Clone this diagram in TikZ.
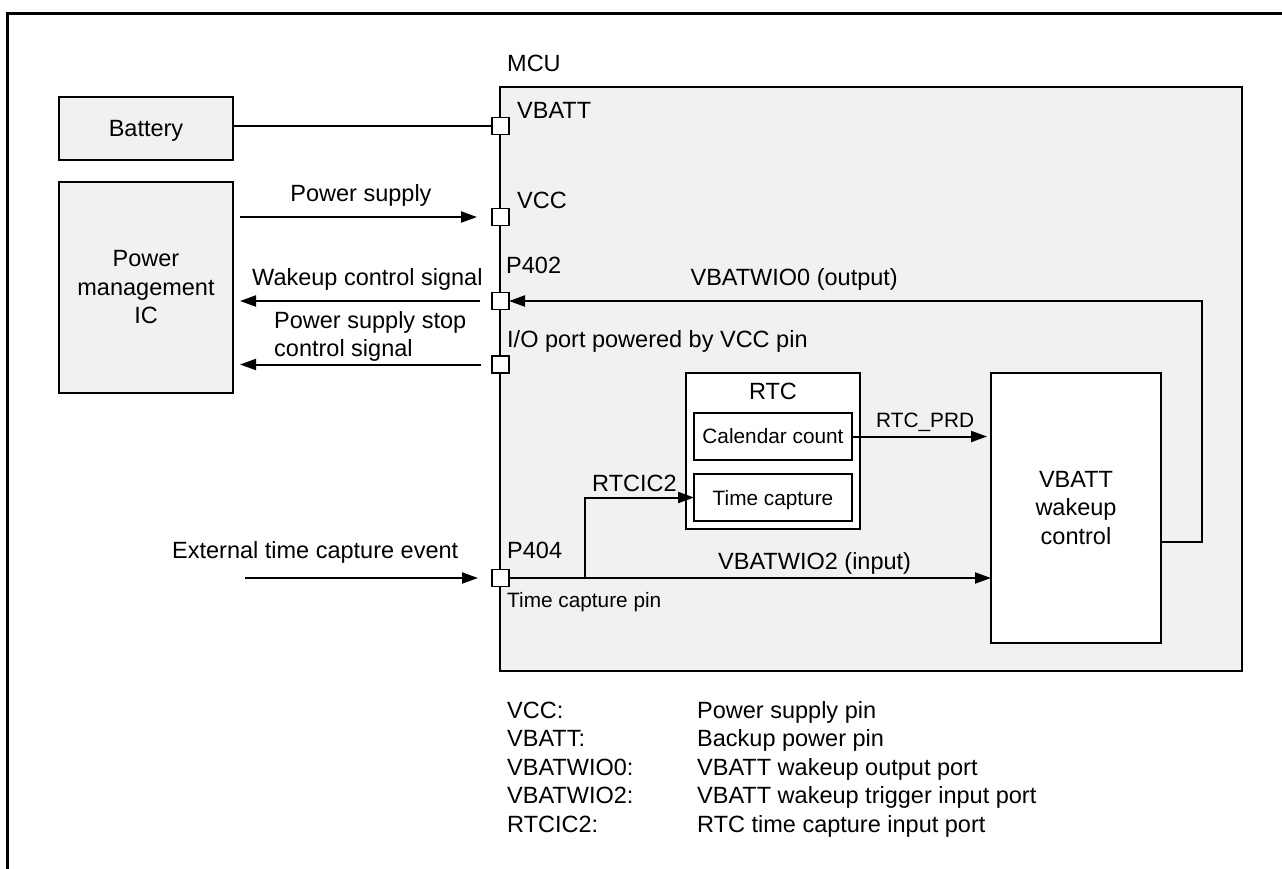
\documentclass[tikz,border=0pt]{standalone}
\usepackage{fontspec}
\setmainfont{Liberation Sans}
\usetikzlibrary{arrows.meta,calc}
\definecolor{boxgray}{HTML}{F1F1F1}
\newcommand\fsA{\fontsize{23.5}{28.5}\selectfont}
\newcommand\fsB{\fontsize{20.8}{25}\selectfont}
\begin{document}
\begin{tikzpicture}[x=1pt,y=-1pt,
  blk/.style={draw, line width=2pt, fill=boxgray, inner sep=0pt, outer sep=0pt, anchor=north west, font=\fsA},
  wblk/.style={blk, fill=white},
  pin/.style={draw, line width=1.8pt, fill=white, minimum size=17pt, inner sep=0pt, outer sep=0pt},
  sig/.style={line width=2pt, -{Triangle[length=16pt,width=11pt]}},
  wire/.style={line width=2pt},
  lbl/.style={inner sep=0pt, font=\fsA},
  slbl/.style={inner sep=0pt, font=\fsB}]
\useasboundingbox (0,0) rectangle (1282,868);
% outer frame
\draw[line width=3pt] (7,880) -- (7,13) -- (1290,13);
% left blocks
\node[blk, minimum width=174pt, minimum height=63pt, text depth=0pt] (bat) at (59,97) {Battery};
\node[blk, align=center, minimum width=174pt, minimum height=211pt] (pmic) at (59,182) {Power\\management\\IC};
% MCU
\node[blk, minimum width=742pt, minimum height=584pt] (mcu) at (500,87) {};
\node[lbl, anchor=base west] (lmcu) at (507,71) {MCU};
% RTC
\node[wblk, minimum width=174pt, minimum height=156pt] (rtc) at (686,373) {};
\node[lbl, anchor=base] (lrtc) at (773,399) {RTC};
\node[wblk, font=\fsB, minimum width=158pt, minimum height=47pt] (cal) at (694,413) {Calendar count};
\node[wblk, font=\fsB, text depth=0pt, minimum width=158pt, minimum height=47pt] (tcap) at (694,474) {Time capture};
% VBATT wakeup control
\node[wblk, align=center, minimum width=170pt, minimum height=270pt] (vwk) at (991,373) {VBATT\\wakeup\\control};
% pins
\node[pin] (pvb) at (500.5,126) {};
\node[pin] (pvcc) at (500.5,217) {};
\node[pin] (p402) at (500.5,301) {};
\node[pin] (pio) at (500.5,364.5) {};
\node[pin] (p404) at (500.5,578) {};
% pin labels
\node[lbl, anchor=base west] (lvbatt) at (517,118) {VBATT};
\node[lbl, anchor=base west] (lvcc) at (517,208) {VCC};
\node[lbl, anchor=base west] (lp402) at (506,273) {P402};
\node[lbl, anchor=base west] (lio) at (507,347) {I/O port powered by VCC pin};
\node[lbl, anchor=base west] (lp404) at (507,558) {P404};
\node[slbl, anchor=base west] (ltcp) at (507,607) {Time capture pin};
% connectors
\draw[wire] (bat.east |- pvb) -- (pvb.west);
\draw[sig, shorten <=7pt, shorten >=15pt] (pmic.east |- pvcc) -- (pvcc.west);
\draw[sig, shorten <=12pt, shorten >=7pt] (p402.west) -- (pmic.east |- p402);
\draw[sig, shorten <=11pt, shorten >=7pt] (pio.west) -- (pmic.east |- pio);
\coordinate (ext) at (245,578);
\draw[sig, shorten >=14pt] (ext) -- (p404.west);
\coordinate (vout) at (1161,542);
\coordinate (vturn) at (1202,542);
\draw[sig] (vout) -- (vturn) |- (p402.east);
\draw[sig, shorten >=4pt] (cal.east) -- (vwk.west |- cal.east);
\draw[sig] (p404.east) -- (vwk.west |- p404);
\coordinate (br) at (585,578);
\draw[sig] (br) |- (tcap.west);
% connector labels
\node[lbl, anchor=base] (lps) at (361,201) {Power supply};
\node[lbl, anchor=base west] (lwk) at (252,285) {Wakeup control signal};
\node[lbl, anchor=base west] (lstop1) at (274,328) {Power supply stop};
\node[lbl, anchor=base west] (lstop2) at (274,356) {control signal};
\node[lbl, anchor=base west] (lext) at (172,558) {External time capture event};
\node[lbl, anchor=base east] (lwo) at (898,285) {VBATWIO0 (output)};
\node[lbl, anchor=base west] (lwi) at (718,569) {VBATWIO2 (input)};
\node[lbl, anchor=base west] (lric) at (592,491) {RTCIC2};
\node[slbl, anchor=base west] (lprd) at (876,427) {RTC\_PRD};
% legend
\foreach \k/\v [count=\i from 0] in {VCC:/Power supply pin, VBATT:/Backup power pin, VBATWIO0:/VBATT wakeup output port, VBATWIO2:/VBATT wakeup trigger input port, RTCIC2:/RTC time capture input port}{
  \node[lbl, anchor=base west] (legk\i) at (507,{718+28.5*\i}) {\k};
  \node[lbl, anchor=base west] (legv\i) at (697,{718+28.5*\i}) {\v};
}
\end{tikzpicture}
\end{document}
